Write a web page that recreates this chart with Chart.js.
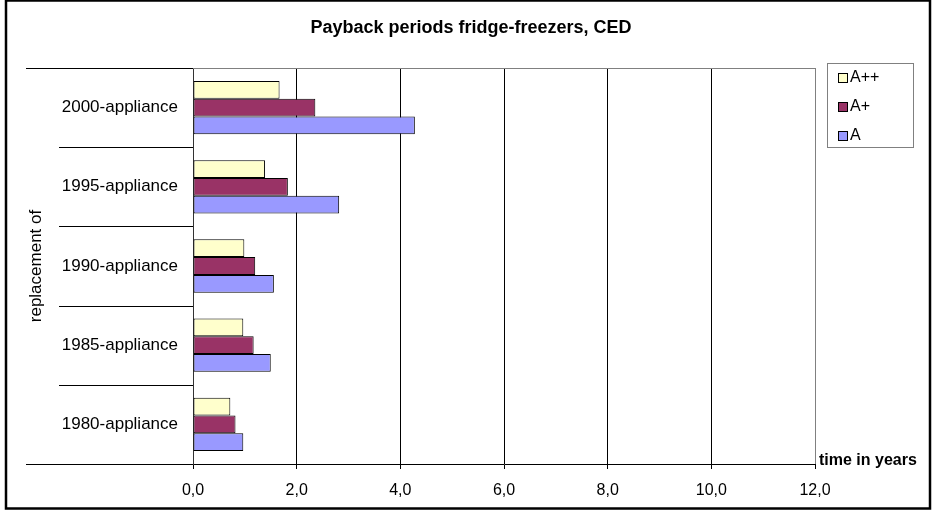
<!DOCTYPE html>
<html>
<head>
<meta charset="utf-8">
<title>Payback periods fridge-freezers, CED</title>
<script src="https://cdn.jsdelivr.net/npm/chart.js@4/dist/chart.umd.min.js"></script>
<style>
  html, body { margin: 0; padding: 0; background: #ffffff; }
  #wrap { width: 933px; height: 511px; }
  canvas { display: block; }
</style>
</head>
<body>
<div id="wrap"><canvas id="chart" width="933" height="511"></canvas></div>
<script>
// Appliance being replaced (top to bottom)
const categories = ['2000-appliance', '1995-appliance', '1990-appliance', '1985-appliance', '1980-appliance'];

// Payback period in years for each new energy class
const seriesNames = ['A++', 'A+', 'A'];
const paybackAPlusPlus = [1.67, 1.39, 0.99, 0.97, 0.72];
const paybackAPlus     = [2.36, 1.83, 1.20, 1.17, 0.82];
const paybackA         = [4.28, 2.82, 1.56, 1.50, 0.97];

// Value axis range and tick step
const xMin = 0;
const xMax = 12;
const xStep = 2;

const chartTitle = 'Payback periods fridge-freezers, CED';
const valueAxisCaption = 'time in years';
const categoryAxisCaption = 'replacement of';

const FONT = '"Liberation Sans", Arial, Helvetica, sans-serif';
const fillColors = ['#FFFFCC', '#993366', '#9999FF'];

const formatTick = v => Number(v).toFixed(1).replace('.', ',');

// Title, frame, category separators, plot border, axis caption and legend box
const decorations = {
  id: 'decorations',
  beforeDatasetsDraw(chart) {
    const { ctx, chartArea } = chart;
    const yScale = chart.scales.y;
    ctx.save();
    // gray top edge of the plot area
    ctx.strokeStyle = '#808080';
    ctx.lineWidth = 1;
    ctx.beginPath();
    ctx.moveTo(chartArea.left, chartArea.top + 0.5);
    ctx.lineTo(chartArea.right, chartArea.top + 0.5);
    ctx.stroke();

    // category separators left of the value axis
    ctx.strokeStyle = '#000000';
    ctx.beginPath();
    ctx.moveTo(26, chartArea.top + 0.5);
    ctx.lineTo(chartArea.left, chartArea.top + 0.5);
    ctx.moveTo(26, chartArea.bottom + 0.5);
    ctx.lineTo(chartArea.left, chartArea.bottom + 0.5);
    for (let i = 0; i < categories.length - 1; i++) {
      const yy = Math.round((yScale.getPixelForTick(i) + yScale.getPixelForTick(i + 1)) / 2) + 0.5;
      ctx.moveTo(59, yy);
      ctx.lineTo(chartArea.left, yy);
    }
    ctx.stroke();
    ctx.restore();
  },
  afterDraw(chart) {
    const { ctx, chartArea } = chart;
    ctx.save();
    // chart title
    ctx.fillStyle = '#000000';
    ctx.font = 'bold 18px ' + FONT;
    ctx.textAlign = 'center';
    ctx.textBaseline = 'middle';
    ctx.fillText(chartTitle, 471, 28);

    // value-axis caption at the end of the axis
    ctx.font = 'bold 16px ' + FONT;
    ctx.textAlign = 'left';
    ctx.fillText(valueAxisCaption, chartArea.right + 4, chartArea.bottom - 3);

    // legend
    const bx = 827, by = 63, bw = 86, bh = 84;
    ctx.strokeStyle = '#808080';
    ctx.lineWidth = 1;
    ctx.strokeRect(bx + 0.5, by + 0.5, bw, bh);
    ctx.font = '16px ' + FONT;
    chart.data.datasets.forEach((ds, i) => {
      const cy = by + 14 + i * 29;
      ctx.fillStyle = ds.backgroundColor;
      ctx.fillRect(bx + 11, cy - 4, 10, 10);
      ctx.strokeStyle = '#000000';
      ctx.strokeRect(bx + 11.5, cy - 3.5, 9, 9);
      ctx.fillStyle = '#000000';
      ctx.fillText(ds.label, bx + 23, cy + 1);
    });

    // outer frame
    ctx.strokeStyle = '#000000';
    ctx.lineWidth = 2.5;
    ctx.strokeRect(6, 0.5, 924, 508);
    ctx.restore();
  }
};

new Chart(document.getElementById('chart'), {
  type: 'bar',
  data: {
    labels: categories,
    datasets: [
      { label: seriesNames[0], data: paybackAPlusPlus, backgroundColor: fillColors[0] },
      { label: seriesNames[1], data: paybackAPlus,     backgroundColor: fillColors[1] },
      { label: seriesNames[2], data: paybackA,         backgroundColor: fillColors[2] }
    ].map(d => Object.assign(d, {
      borderColor: '#000000',
      borderWidth: 1,
      borderSkipped: false,
      categoryPercentage: 0.673,
      barPercentage: 1.0
    }))
  },
  options: {
    indexAxis: 'y',
    responsive: false,
    animation: false,
    devicePixelRatio: 1,
    layout: { padding: { left: 0, right: 118, top: 68, bottom: 0 } },
    plugins: {
      legend: { display: false },
      tooltip: { enabled: false },
      title: { display: false }
    },
    scales: {
      x: {
        type: 'linear',
        min: xMin,
        max: xMax,
        ticks: {
          stepSize: xStep,
          color: '#000000',
          font: { family: FONT, size: 16 },
          padding: 12,
          maxRotation: 0,
          callback: formatTick
        },
        grid: {
          color: c => (c.index === (xMax - xMin) / xStep ? '#808080' : '#000000'),
          tickColor: '#000000',
          tickLength: 5,
          lineWidth: 1
        },
        border: { color: '#000000', width: 1 },
        afterFit: s => { s.height = 47; }
      },
      y: {
        type: 'category',
        ticks: {
          color: '#000000',
          font: { family: FONT, size: 17 },
          padding: 15
        },
        grid: { display: false, drawTicks: false },
        border: { color: '#333333', width: 1 },
        title: {
          display: true,
          text: categoryAxisCaption,
          color: '#000000',
          font: { family: FONT, size: 17 },
          padding: { top: 26, bottom: 0 }
        },
        afterFit: s => { s.width = 193; }
      }
    }
  },
  plugins: [decorations]
});
</script>
</body>
</html>
